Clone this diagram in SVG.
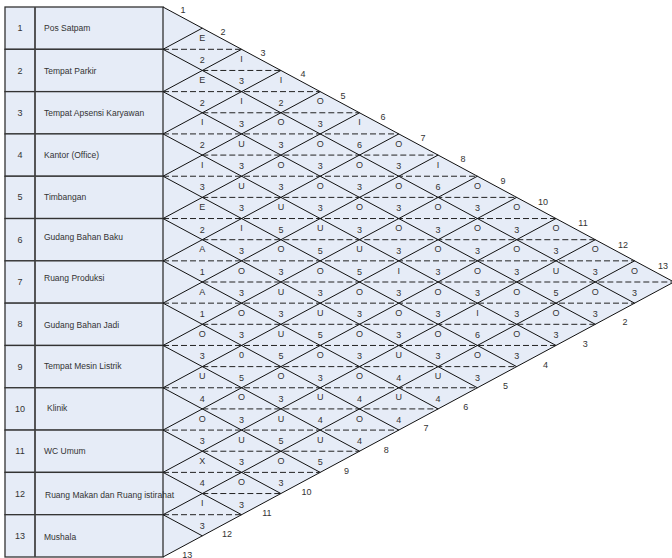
<svg xmlns="http://www.w3.org/2000/svg" width="672" height="558" viewBox="0 0 672 558">
<defs>
<style>
.bg{fill:#e6ecf7;stroke:none}
.row{fill:#e6ecf7;stroke:#333;stroke-width:1.3}
.div{stroke:#444;stroke-width:1.8}
.t{font-family:"Liberation Sans",Arial,sans-serif;font-size:8.5px;fill:#333}
.n{font-family:"Liberation Sans",Arial,sans-serif;font-size:9px;fill:#333;text-anchor:middle}
.c{font-family:"Liberation Sans",Arial,sans-serif;font-size:9px;fill:#333;text-anchor:middle}
.solid{stroke:#111;stroke-width:1;fill:none}
.dash{stroke:#222;stroke-width:1;stroke-dasharray:6 3;fill:none}
</style>
</defs>
<polygon class="bg" points="163,7 673.9,282 163,557"/>
<g id="dept-1"><rect class="row" x="5" y="7" width="158" height="42.31"/><line class="div" x1="35" y1="7" x2="35" y2="49.31"/><text class="n" x="20" y="31.2">1</text><text class="t" x="44" y="31.2">Pos Satpam</text></g>
<g id="dept-2"><rect class="row" x="5" y="49.31" width="158" height="42.31"/><line class="div" x1="35" y1="49.31" x2="35" y2="91.62"/><text class="n" x="20" y="73.5">2</text><text class="t" x="44" y="74.3">Tempat Parkir</text></g>
<g id="dept-3"><rect class="row" x="5" y="91.62" width="158" height="42.31"/><line class="div" x1="35" y1="91.62" x2="35" y2="133.92"/><text class="n" x="20" y="115.8">3</text><text class="t" x="44" y="115.8">Tempat Apsensi Karyawan</text></g>
<g id="dept-4"><rect class="row" x="5" y="133.92" width="158" height="42.31"/><line class="div" x1="35" y1="133.92" x2="35" y2="176.23"/><text class="n" x="20" y="158.1">4</text><text class="t" x="44" y="157.6">Kantor (Office)</text></g>
<g id="dept-5"><rect class="row" x="5" y="176.23" width="158" height="42.31"/><line class="div" x1="35" y1="176.23" x2="35" y2="218.54"/><text class="n" x="20" y="200.4">5</text><text class="t" x="44" y="199.6">Timbangan</text></g>
<g id="dept-6"><rect class="row" x="5" y="218.54" width="158" height="42.31"/><line class="div" x1="35" y1="218.54" x2="35" y2="260.85"/><text class="n" x="20" y="242.7">6</text><text class="t" x="44" y="240">Gudang Bahan Baku</text></g>
<g id="dept-7"><rect class="row" x="5" y="260.85" width="158" height="42.31"/><line class="div" x1="35" y1="260.85" x2="35" y2="303.15"/><text class="n" x="20" y="285">7</text><text class="t" x="44" y="281.3">Ruang Produksi</text></g>
<g id="dept-8"><rect class="row" x="5" y="303.15" width="158" height="42.31"/><line class="div" x1="35" y1="303.15" x2="35" y2="345.46"/><text class="n" x="20" y="327.3">8</text><text class="t" x="44" y="328">Gudang Bahan Jadi</text></g>
<g id="dept-9"><rect class="row" x="5" y="345.46" width="158" height="42.31"/><line class="div" x1="35" y1="345.46" x2="35" y2="387.77"/><text class="n" x="20" y="369.6">9</text><text class="t" x="44" y="369.4">Tempat Mesin Listrik</text></g>
<g id="dept-10"><rect class="row" x="5" y="387.77" width="158" height="42.31"/><line class="div" x1="35" y1="387.77" x2="35" y2="430.08"/><text class="n" x="20" y="411.9">10</text><text class="t" x="47" y="411.4">Klinik</text></g>
<g id="dept-11"><rect class="row" x="5" y="430.08" width="158" height="42.31"/><line class="div" x1="35" y1="430.08" x2="35" y2="472.38"/><text class="n" x="20" y="454.2">11</text><text class="t" x="44" y="453.5">WC Umum</text></g>
<g id="dept-12"><rect class="row" x="5" y="472.38" width="158" height="42.31"/><line class="div" x1="35" y1="472.38" x2="35" y2="514.69"/><text class="n" x="20" y="496.5">12</text><text class="t" x="45" y="498">Ruang Makan dan Ruang istirahat</text></g>
<g id="dept-13"><rect class="row" x="5" y="514.69" width="158" height="42.31"/><line class="div" x1="35" y1="514.69" x2="35" y2="557"/><text class="n" x="20" y="538.8">13</text><text class="t" x="44" y="540">Mushala</text></g>
<g id="connectors">
<path class="solid" d="M163,7L673.9,282M163,49.31L634.6,303.15M163,91.62L595.3,324.31M163,133.92L556,345.46M163,176.23L516.7,366.62M163,218.54L477.4,387.77M163,260.85L438.1,408.92M163,303.15L398.8,430.08M163,345.46L359.5,451.23M163,387.77L320.2,472.38M163,430.08L280.9,493.54M163,472.38L241.6,514.69M163,514.69L202.3,535.85"/>
<path class="solid" d="M163,49.31L202.3,28.15M163,91.62L241.6,49.31M163,133.92L280.9,70.46M163,176.23L320.2,91.62M163,218.54L359.5,112.77M163,260.85L398.8,133.92M163,303.15L438.1,155.08M163,345.46L477.4,176.23M163,387.77L516.7,197.38M163,430.08L556,218.54M163,472.38L595.3,239.69M163,514.69L634.6,260.85M163,557L673.9,282"/>
<path class="dash" d="M163,49.31H241.6M202.3,70.46H280.9M163,91.62H320.2M202.3,112.77H359.5M163,133.92H398.8M202.3,155.08H438.1M163,176.23H477.4M202.3,197.38H516.7M163,218.54H556M202.3,239.69H595.3M163,260.85H634.6M202.3,282H673.9M163,303.15H634.6M202.3,324.31H595.3M163,345.46H556M202.3,366.62H516.7M163,387.77H477.4M202.3,408.92H438.1M163,430.08H398.8M202.3,451.23H359.5M163,472.38H320.2M202.3,493.54H280.9M163,514.69H241.6"/>
</g>
<g id="edge-labels" class="c">
<text x="183" y="13.3">1</text><text x="223" y="34.6">2</text><text x="263" y="55.9">3</text><text x="303" y="77.2">4</text><text x="343" y="98.5">5</text><text x="383" y="119.8">6</text><text x="423" y="141.1">7</text><text x="463" y="162.4">8</text><text x="503" y="183.7">9</text><text x="543" y="205">10</text><text x="583" y="226.3">11</text><text x="623" y="247.6">12</text><text x="663" y="268.9">13</text>
<text x="625" y="325.3">2</text><text x="585.2" y="346.5">3</text><text x="545.4" y="367.7">4</text><text x="505.6" y="388.9">5</text><text x="465.8" y="410.1">6</text><text x="426" y="431.3">7</text><text x="386.2" y="452.5">8</text><text x="346.4" y="473.7">9</text><text x="306.6" y="494.9">10</text><text x="266.8" y="516.1">11</text><text x="227" y="537.3">12</text><text x="187.2" y="557.5">13</text>
</g>
<g id="relations" class="c">
<g id="r1-2" transform="translate(202.3,49.31)"><text y="-8.5">E</text><text y="14">2</text></g>
<g id="r1-3" transform="translate(241.6,70.46)"><text y="-8.5">I</text><text y="14">3</text></g>
<g id="r1-4" transform="translate(280.9,91.62)"><text y="-8.5">I</text><text y="14">2</text></g>
<g id="r1-5" transform="translate(320.2,112.77)"><text y="-8.5">O</text><text y="14">3</text></g>
<g id="r1-6" transform="translate(359.5,133.92)"><text y="-8.5">I</text><text y="14">6</text></g>
<g id="r1-7" transform="translate(398.8,155.08)"><text y="-8.5">O</text><text y="14">3</text></g>
<g id="r1-8" transform="translate(438.1,176.23)"><text y="-8.5">I</text><text y="14">6</text></g>
<g id="r1-9" transform="translate(477.4,197.38)"><text y="-8.5">O</text><text y="14">3</text></g>
<g id="r1-10" transform="translate(516.7,218.54)"><text y="-8.5">O</text><text y="14">3</text></g>
<g id="r1-11" transform="translate(556,239.69)"><text y="-8.5">O</text><text y="14">3</text></g>
<g id="r1-12" transform="translate(595.3,260.85)"><text y="-8.5">O</text><text y="14">3</text></g>
<g id="r1-13" transform="translate(634.6,282)"><text y="-8.5">O</text><text y="14">3</text></g>
<g id="r2-3" transform="translate(202.3,91.62)"><text y="-8.5">E</text><text y="14">2</text></g>
<g id="r2-4" transform="translate(241.6,112.77)"><text y="-8.5">I</text><text y="14">3</text></g>
<g id="r2-5" transform="translate(280.9,133.92)"><text y="-8.5">O</text><text y="14">3</text></g>
<g id="r2-6" transform="translate(320.2,155.08)"><text y="-8.5">O</text><text y="14">3</text></g>
<g id="r2-7" transform="translate(359.5,176.23)"><text y="-8.5">O</text><text y="14">3</text></g>
<g id="r2-8" transform="translate(398.8,197.38)"><text y="-8.5">O</text><text y="14">3</text></g>
<g id="r2-9" transform="translate(438.1,218.54)"><text y="-8.5">O</text><text y="14">3</text></g>
<g id="r2-10" transform="translate(477.4,239.69)"><text y="-8.5">O</text><text y="14">3</text></g>
<g id="r2-11" transform="translate(516.7,260.85)"><text y="-8.5">O</text><text y="14">3</text></g>
<g id="r2-12" transform="translate(556,282)"><text y="-8.5">U</text><text y="14">5</text></g>
<g id="r2-13" transform="translate(595.3,303.15)"><text y="-8.5">O</text><text y="14">3</text></g>
<g id="r3-4" transform="translate(202.3,133.92)"><text y="-8.5">I</text><text y="14">2</text></g>
<g id="r3-5" transform="translate(241.6,155.08)"><text y="-8.5">U</text><text y="14">3</text></g>
<g id="r3-6" transform="translate(280.9,176.23)"><text y="-8.5">O</text><text y="14">3</text></g>
<g id="r3-7" transform="translate(320.2,197.38)"><text y="-8.5">O</text><text y="14">3</text></g>
<g id="r3-8" transform="translate(359.5,218.54)"><text y="-8.5">O</text><text y="14">3</text></g>
<g id="r3-9" transform="translate(398.8,239.69)"><text y="-8.5">O</text><text y="14">3</text></g>
<g id="r3-10" transform="translate(438.1,260.85)"><text y="-8.5">O</text><text y="14">3</text></g>
<g id="r3-11" transform="translate(477.4,282)"><text y="-8.5">O</text><text y="14">3</text></g>
<g id="r3-12" transform="translate(516.7,303.15)"><text y="-8.5">O</text><text y="14">3</text></g>
<g id="r3-13" transform="translate(556,324.31)"><text y="-8.5">O</text><text y="14">3</text></g>
<g id="r4-5" transform="translate(202.3,176.23)"><text y="-8.5">I</text><text y="14">3</text></g>
<g id="r4-6" transform="translate(241.6,197.38)"><text y="-8.5">U</text><text y="14">3</text></g>
<g id="r4-7" transform="translate(280.9,218.54)"><text y="-8.5">U</text><text y="14">5</text></g>
<g id="r4-8" transform="translate(320.2,239.69)"><text y="-8.5">U</text><text y="14">5</text></g>
<g id="r4-9" transform="translate(359.5,260.85)"><text y="-8.5">U</text><text y="14">5</text></g>
<g id="r4-10" transform="translate(398.8,282)"><text y="-8.5">I</text><text y="14">3</text></g>
<g id="r4-11" transform="translate(438.1,303.15)"><text y="-8.5">O</text><text y="14">3</text></g>
<g id="r4-12" transform="translate(477.4,324.31)"><text y="-8.5">I</text><text y="14">6</text></g>
<g id="r4-13" transform="translate(516.7,345.46)"><text y="-8.5">O</text><text y="14">3</text></g>
<g id="r5-6" transform="translate(202.3,218.54)"><text y="-8.5">E</text><text y="14">2</text></g>
<g id="r5-7" transform="translate(241.6,239.69)"><text y="-8.5">I</text><text y="14">3</text></g>
<g id="r5-8" transform="translate(280.9,260.85)"><text y="-8.5">O</text><text y="14">3</text></g>
<g id="r5-9" transform="translate(320.2,282)"><text y="-8.5">O</text><text y="14">3</text></g>
<g id="r5-10" transform="translate(359.5,303.15)"><text y="-8.5">O</text><text y="14">3</text></g>
<g id="r5-11" transform="translate(398.8,324.31)"><text y="-8.5">O</text><text y="14">3</text></g>
<g id="r5-12" transform="translate(438.1,345.46)"><text y="-8.5">O</text><text y="14">3</text></g>
<g id="r5-13" transform="translate(477.4,366.62)"><text y="-8.5">O</text><text y="14">3</text></g>
<g id="r6-7" transform="translate(202.3,260.85)"><text y="-8.5">A</text><text y="14">1</text></g>
<g id="r6-8" transform="translate(241.6,282)"><text y="-8.5">O</text><text y="14">3</text></g>
<g id="r6-9" transform="translate(280.9,303.15)"><text y="-8.5">U</text><text y="14">3</text></g>
<g id="r6-10" transform="translate(320.2,324.31)"><text y="-8.5">U</text><text y="14">5</text></g>
<g id="r6-11" transform="translate(359.5,345.46)"><text y="-8.5">O</text><text y="14">3</text></g>
<g id="r6-12" transform="translate(398.8,366.62)"><text y="-8.5">U</text><text y="14">4</text></g>
<g id="r6-13" transform="translate(438.1,387.77)"><text y="-8.5">U</text><text y="14">4</text></g>
<g id="r7-8" transform="translate(202.3,303.15)"><text y="-8.5">A</text><text y="14">1</text></g>
<g id="r7-9" transform="translate(241.6,324.31)"><text y="-8.5">O</text><text y="14">3</text></g>
<g id="r7-10" transform="translate(280.9,345.46)"><text y="-8.5">U</text><text y="14">5</text></g>
<g id="r7-11" transform="translate(320.2,366.62)"><text y="-8.5">O</text><text y="14">3</text></g>
<g id="r7-12" transform="translate(359.5,387.77)"><text y="-8.5">O</text><text y="14">4</text></g>
<g id="r7-13" transform="translate(398.8,408.92)"><text y="-8.5">U</text><text y="14">4</text></g>
<g id="r8-9" transform="translate(202.3,345.46)"><text y="-8.5">O</text><text y="14">3</text></g>
<g id="r8-10" transform="translate(241.6,366.62)"><text y="-8.5">0</text><text y="14">5</text></g>
<g id="r8-11" transform="translate(280.9,387.77)"><text y="-8.5">O</text><text y="14">3</text></g>
<g id="r8-12" transform="translate(320.2,408.92)"><text y="-8.5">U</text><text y="14">4</text></g>
<g id="r8-13" transform="translate(359.5,430.08)"><text y="-8.5">O</text><text y="14">4</text></g>
<g id="r9-10" transform="translate(202.3,387.77)"><text y="-8.5">U</text><text y="14">4</text></g>
<g id="r9-11" transform="translate(241.6,408.92)"><text y="-8.5">O</text><text y="14">3</text></g>
<g id="r9-12" transform="translate(280.9,430.08)"><text y="-8.5">U</text><text y="14">5</text></g>
<g id="r9-13" transform="translate(320.2,451.23)"><text y="-8.5">U</text><text y="14">5</text></g>
<g id="r10-11" transform="translate(202.3,430.08)"><text y="-8.5">O</text><text y="14">3</text></g>
<g id="r10-12" transform="translate(241.6,451.23)"><text y="-8.5">U</text><text y="14">3</text></g>
<g id="r10-13" transform="translate(280.9,472.38)"><text y="-8.5">O</text><text y="14">3</text></g>
<g id="r11-12" transform="translate(202.3,472.38)"><text y="-8.5">X</text><text y="14">4</text></g>
<g id="r11-13" transform="translate(241.6,493.54)"><text y="-8.5">O</text><text y="14">3</text></g>
<g id="r12-13" transform="translate(202.3,514.69)"><text y="-8.5">I</text><text y="14">3</text></g>
</g>
</svg>
